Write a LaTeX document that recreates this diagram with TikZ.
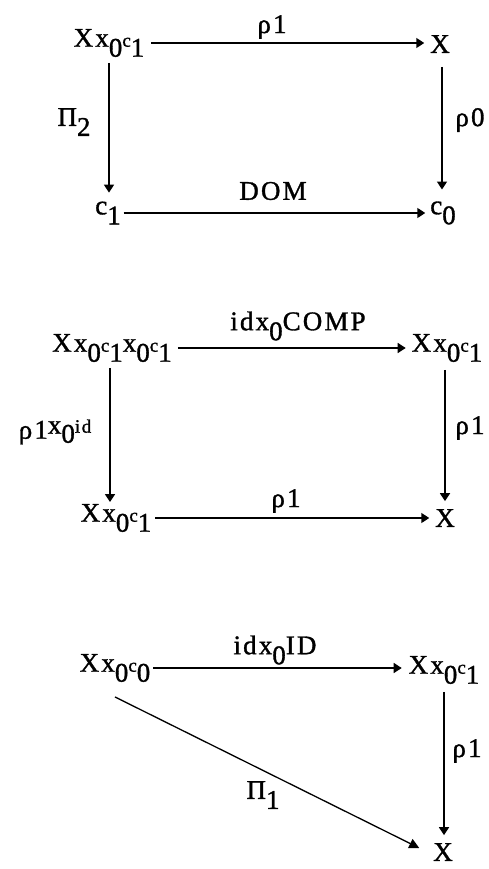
\documentclass[tikz,border=0pt]{standalone}
\usepackage{fontspec}
\setmainfont{Liberation Serif}[LetterSpace=8,FakeBold=1.2]
\usetikzlibrary{arrows.meta}
\newcommand\lo[1]{\raisebox{-10pt}{#1}}
\newcommand\sm[1]{{\fontsize{19}{19}\selectfont #1}}
\begin{document}
\begin{tikzpicture}[x=1pt,y=-1pt,
  every node/.style={inner sep=0pt,outer sep=0pt,font=\fontsize{27}{27}\selectfont},
  arr/.style={-{Triangle[length=8pt,width=10pt]},line width=1.6pt},
  darr/.style={-{Triangle[length=10pt,width=10pt]},line width=1.3pt}]
\useasboundingbox[fill=white] (0,0) rectangle (488,869);
% diagram 1
\node (A1) at (109,43) {Xx\lo0\sm{c}\lo1};
\node (B1) at (440,44) {X};
\node (C1) at (108,213) {c\lo1};
\node (D1) at (443,213) {c\lo0};
\node (l1) at (272,27) {ρ1};
\node (l2) at (74,122) {Π\lo2};
\node (l3) at (273,191) {DOM};
\node (l4) at (470,120) {ρ0};
\draw[arr,shorten <=7pt,shorten >=6pt] (A1.east) -- (A1.east -| B1.west);
\draw[arr,shorten <=6pt,shorten >=9pt] (A1.south) -- (A1.south |- C1.north);
\draw[arr,shorten <=14pt,shorten >=12pt] ([xshift=2pt]B1.south) -- ([xshift=2pt]B1.south |- D1.north);
\draw[arr,shorten <=3pt,shorten >=5pt] (C1.east) -- (C1.east -| D1.west);
% diagram 2
\node (A2) at (112,348) {Xx\lo0\sm{c}\lo1x\lo0\sm{c}\lo1};
\node (B2) at (447,348) {Xx\lo0\sm{c}\lo1};
\node (C2) at (116,518) {Xx\lo0\sm{c}\lo1};
\node (D2) at (445,518) {X};
\node (m1) at (298,326) {idx\lo0COMP};
\node (m2) at (55,432) {ρ1\raisebox{5pt}{x}\raisebox{-4pt}{0}\raisebox{6pt}{\sm{id}}};
\node (m3) at (470,428) {ρ1};
\node (m4) at (286,501) {ρ1};
\draw[arr,shorten <=6pt,shorten >=6pt] (A2.east) -- (A2.east -| B2.west);
\draw[arr,shorten <=6pt,shorten >=2pt] ([xshift=-2pt]A2.south) -- ([xshift=-2pt]A2.south |- C2.north);
\draw[arr,shorten <=8pt,shorten >=8pt] (D2.north |- B2.south) -- (D2.north);
\draw[arr,shorten <=4pt,shorten >=6pt] (C2.east) -- (C2.east -| D2.west);
% diagram 3
\node (A3) at (115,668) {Xx\lo0\sm{c}\lo0};
\node (B3) at (444,670) {Xx\lo0\sm{c}\lo1};
\node (C3) at (443,852) {X};
\node (n1) at (275,650) {idx\lo0ID};
\node (n2) at (467,751) {ρ1};
\node (n3) at (263,795) {Π\lo1};
\draw[arr,shorten <=3pt,shorten >=7pt] (A3.east) -- (A3.east -| B3.west);
\draw[arr,shorten <=8pt,shorten >=8pt] (B3.south) -- (B3.south |- C3.north);
\draw[darr] ([yshift=-15pt]A3.south) -- ([xshift=-14pt,yshift=4pt]C3.west);
\end{tikzpicture}
\end{document}
